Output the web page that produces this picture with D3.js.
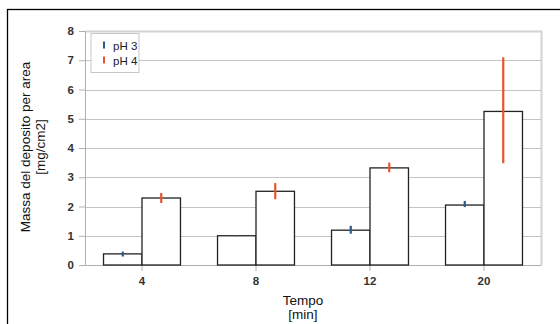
<!DOCTYPE html>
<html>
<head>
<meta charset="utf-8">
<script src="https://cdn.jsdelivr.net/npm/d3@7"></script>
<style>
  body { margin: 0; background: #fff; }
  text { font-family: "Liberation Sans", Arial, sans-serif; }
</style>
</head>
<body>
<div id="canvas"></div>
<script>
// data
const tempi = ["4", "8", "12", "20"];
const serie = ["pH 3", "pH 4"];
const valoriPH3 = [0.38, 1.0, 1.19, 2.05];
const valoriPH4 = [2.29, 2.52, 3.32, 5.25];
const erroriPH3 = [[0.29, 0.46], [0.98, 1.02], [1.07, 1.34], [1.98, 2.19]];
const erroriPH4 = [[2.12, 2.46], [2.25, 2.80], [3.17, 3.50], [3.48, 7.10]];
const yTicks = [0, 1, 2, 3, 4, 5, 6, 7, 8];

const colours = ["#2b5a8a", "#e8532f"];

const W = 560, H = 324;
const margin = {top: 31, right: 19, bottom: 59, left: 85},
  width = W - margin.left - margin.right,
  height = H - margin.top - margin.bottom;

const svg = d3.select("#canvas")
  .append("svg")
  .attr("width", W)
  .attr("height", H);

// outer frame
svg.append("rect")
  .attr("x", 7.5).attr("y", 9.5)
  .attr("width", W).attr("height", H)
  .attr("fill", "none")
  .attr("stroke", "#000")
  .attr("stroke-width", 1.3);

const g = svg.append("g")
  .attr("transform", "translate(" + margin.left + "," + margin.top + ")");

// scales
const x = d3.scaleBand()
  .domain(tempi)
  .range([0, width])
  .paddingInner(0.325)
  .paddingOuter(0.1625);

const xSub = d3.scaleBand()
  .domain(serie)
  .range([0, x.bandwidth()]);

const y = d3.scaleLinear()
  .domain([0, 8])
  .range([height, 0]);

// plot area border (top/right)
g.append("path")
  .attr("d", "M0,0.5H" + (width + 0.5) + "V" + height)
  .attr("fill", "none")
  .attr("stroke", "#d4d4d4")
  .attr("stroke-width", 2);

// grid lines
g.selectAll(".grid")
  .data(yTicks.slice(1, -1))
  .join("line")
  .attr("x1", 0).attr("x2", width)
  .attr("y1", d => Math.round(y(d)) + 0.5)
  .attr("y2", d => Math.round(y(d)) + 0.5)
  .attr("stroke", "#c4c4c4");

// y axis
const yAxis = g.append("g")
  .call(d3.axisLeft(y).tickValues(yTicks).tickSize(6).tickPadding(5));
yAxis.select(".domain").attr("stroke", "#b0b0b0");
yAxis.selectAll(".tick line").attr("stroke", "#b0b0b0");
yAxis.selectAll("text")
  .attr("font-size", 11.5)
  .attr("font-weight", "bold")
  .attr("fill", "#333")
  .style("font-family", "'Liberation Sans', Arial, sans-serif");

// x axis
const xAxis = g.append("g")
  .attr("transform", "translate(0," + height + ")")
  .call(d3.axisBottom(x).tickSize(6).tickPadding(6).tickSizeOuter(0));
xAxis.select(".domain").attr("stroke", "#b0b0b0");
xAxis.selectAll(".tick line").attr("stroke", "#b0b0b0");
xAxis.selectAll("text")
  .attr("font-size", 11.5)
  .attr("font-weight", "bold")
  .attr("fill", "#333")
  .style("font-family", "'Liberation Sans', Arial, sans-serif");

// bars
const valori = [valoriPH3, valoriPH4];
const errori = [erroriPH3, erroriPH4];

serie.forEach((s, si) => {
  g.selectAll(".bar" + si)
    .data(tempi)
    .join("rect")
    .attr("x", d => x(d) + xSub(s))
    .attr("y", (d, i) => y(valori[si][i]))
    .attr("width", xSub.bandwidth())
    .attr("height", (d, i) => height - y(valori[si][i]))
    .attr("fill", "#fff")
    .attr("stroke", "#222")
    .attr("stroke-width", 1.3);
});

// error bars
serie.forEach((s, si) => {
  g.selectAll(".err" + si)
    .data(tempi)
    .join("line")
    .attr("x1", d => x(d) + xSub(s) + xSub.bandwidth() / 2)
    .attr("x2", d => x(d) + xSub(s) + xSub.bandwidth() / 2)
    .attr("y1", (d, i) => y(errori[si][i][0]))
    .attr("y2", (d, i) => y(errori[si][i][1]))
    .attr("stroke", colours[si])
    .attr("stroke-width", 2.2);
});

// legend
const legend = g.append("g").attr("transform", "translate(6,2.5)");
legend.append("rect")
  .attr("width", 48).attr("height", 39)
  .attr("fill", "#fff")
  .attr("stroke", "#c8c8c8");
serie.forEach((s, si) => {
  legend.append("line")
    .attr("x1", 13).attr("x2", 13)
    .attr("y1", 8 + si * 15).attr("y2", 15 + si * 15)
    .attr("stroke", colours[si])
    .attr("stroke-width", 2);
  legend.append("text")
    .attr("x", 22).attr("y", 16 + si * 15)
    .attr("font-size", 11.5)
    .attr("fill", "#222")
    .text(s);
});

// axis titles
const yTitle = svg.append("text")
  .attr("transform", "translate(30,147) rotate(-90)")
  .attr("text-anchor", "middle")
  .attr("font-size", 13.5)
  .attr("fill", "#111");
yTitle.append("tspan").attr("x", 0).attr("dy", 0).text("Massa del deposito per area");
yTitle.append("tspan").attr("x", 0).attr("dy", 15).text("[mg/cm2]");

const xTitle = svg.append("text")
  .attr("text-anchor", "middle")
  .attr("font-size", 13.5)
  .attr("fill", "#111");
xTitle.append("tspan").attr("x", 303).attr("y", 305).text("Tempo");
xTitle.append("tspan").attr("x", 303).attr("y", 319).text("[min]");
</script>
</body>
</html>
